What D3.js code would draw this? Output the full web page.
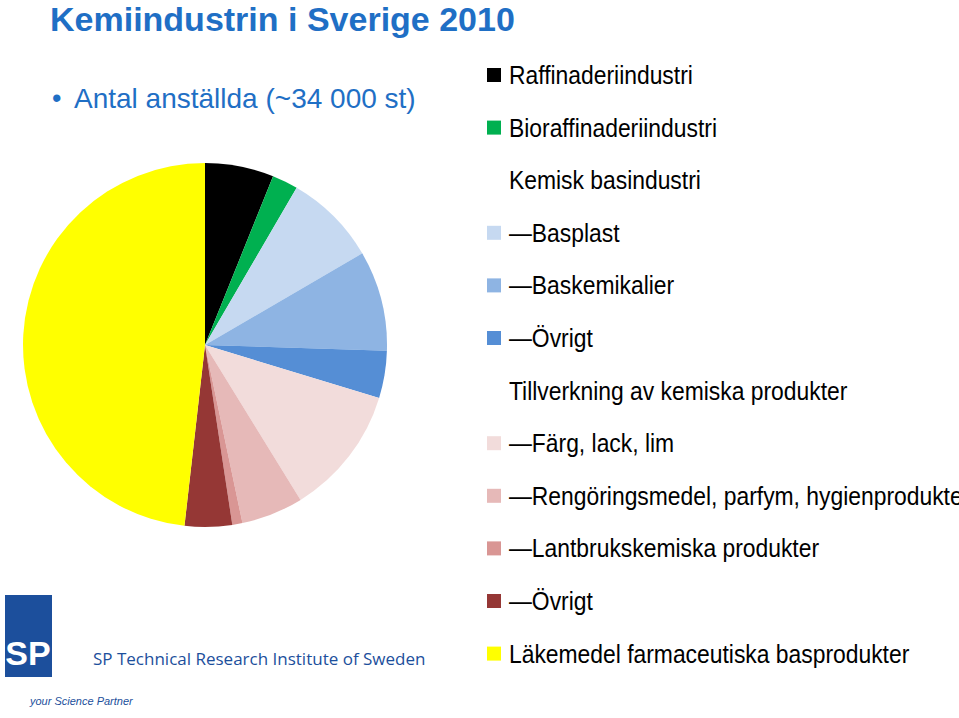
<!DOCTYPE html>
<html><head><meta charset="utf-8">
<script src="https://cdn.jsdelivr.net/npm/d3@7"></script>
<style>body{margin:0;background:#fff;overflow:hidden}</style></head>
<body><svg id="c" width="959" height="718"></svg>
<script>
const labels = ["Raffinaderiindustri","Bioraffinaderiindustri","Basplast","Baskemikalier","Övrigt","Färg, lack, lim","Rengöringsmedel, parfym, hygienprodukter","Lantbrukskemiska produkter","Övrigt","Läkemedel farmaceutiska basprodukter"];
const values = [6.1,2.3,8.2,8.9,4.2,11.5,5.5,0.9,4.2,48.2];
const colors = ["#000000","#00b050","#c6d9f1","#8eb4e3","#558ed5","#f2dcdb","#e6b9b8","#d99694","#953735","#ffff00"];
const legendRows = [
 {t:"Raffinaderiindustri",c:colors[0]},
 {t:"Bioraffinaderiindustri",c:colors[1]},
 {t:"Kemisk basindustri",c:null},
 {t:"—Basplast",c:colors[2]},
 {t:"—Baskemikalier",c:colors[3]},
 {t:"—Övrigt",c:colors[4]},
 {t:"Tillverkning av kemiska produkter",c:null},
 {t:"—Färg, lack, lim",c:colors[5]},
 {t:"—Rengöringsmedel, parfym, hygienprodukter",c:colors[6]},
 {t:"—Lantbrukskemiska produkter",c:colors[7]},
 {t:"—Övrigt",c:colors[8]},
 {t:"Läkemedel farmaceutiska basprodukter",c:colors[9]}
];
const svg = d3.select("#c");
const F = "'Liberation Sans',Arial,sans-serif";
svg.append("text").attr("x",50).attr("y",31).attr("fill","#1f6fc5").attr("font-family",F).attr("font-weight","bold").attr("font-size",34).text("Kemiindustrin i Sverige 2010");
svg.append("text").attr("x",52).attr("y",107).attr("fill","#1f6fc5").attr("font-family",F).attr("font-size",27).text("•");
svg.append("text").attr("x",74).attr("y",108).attr("fill","#1f6fc5").attr("font-family",F).attr("font-size",28).text("Antal anställda (~34 000 st)");
const pie = d3.pie().sort(null).value(d=>d)(values);
const arc = d3.arc().innerRadius(0).outerRadius(182);
svg.append("g").attr("transform","translate(205,345)").selectAll("path").data(pie).join("path")
 .attr("d",arc).attr("fill",(d,i)=>colors[i]);
const lg = svg.append("g");
legendRows.forEach((r,i)=>{
  const y = 75 + i*52.6;
  if(r.c) lg.append("rect").attr("x",487).attr("y",y-7).attr("width",14).attr("height",14).attr("fill",r.c);
  lg.append("text").attr("transform",`translate(509,${y+9}) scale(0.88,1)`).attr("font-family",F).attr("font-size",26).attr("fill","#000").text(r.t);
});
const lo = svg.append("g");
lo.append("rect").attr("x",5).attr("y",595).attr("width",47).attr("height",82).attr("fill","#1c4f9c");
lo.append("text").attr("x",28).attr("y",665).attr("text-anchor","middle").attr("fill","#fff").attr("font-family",F).attr("font-weight","bold").attr("font-size",34).text("SP");
lo.append("text").attr("x",93).attr("y",665).attr("fill","#1c4f9c").attr("font-family","'Open Sans',sans-serif").attr("font-size",17).text("SP Technical Research Institute of Sweden");
lo.append("text").attr("x",30).attr("y",705).attr("fill","#1c4f9c").attr("font-family",F).attr("font-size",11).attr("font-style","italic").text("your Science Partner");
</script></body></html>
